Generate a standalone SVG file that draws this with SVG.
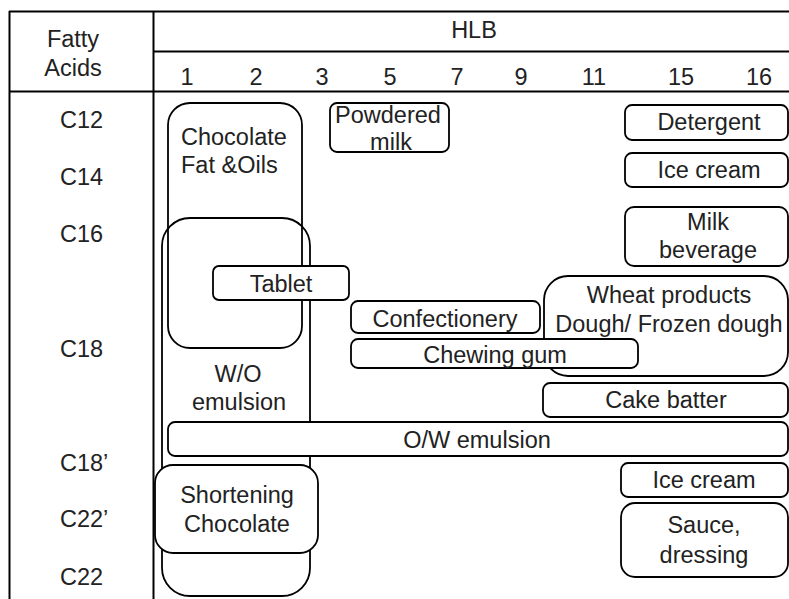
<svg xmlns="http://www.w3.org/2000/svg" width="789" height="599" viewBox="0 0 789 599">
<style>
  text { font-family: "Liberation Sans", Arial, sans-serif; font-size: 23.5px; fill: #222; }
  .c { text-anchor: middle; }
  .grid { stroke: #000; stroke-width: 2; fill: none; }
  .box { stroke: #000; stroke-width: 1.8; fill: none; }
  .boxw { stroke: #000; stroke-width: 1.8; fill: #fff; }
</style>
<rect x="0" y="0" width="789" height="599" fill="#fff"/>
<g id="table">
  <line class="grid" x1="9" y1="11.5" x2="789" y2="11.5"/>
  <line class="grid" x1="9.5" y1="11" x2="9.5" y2="599"/>
  <line class="grid" x1="153.5" y1="11" x2="153.5" y2="599"/>
  <line class="grid" x1="153" y1="51.5" x2="789" y2="51.5"/>
  <line class="grid" x1="9" y1="91.5" x2="789" y2="91.5"/>
  <text class="c" x="73" y="47">Fatty</text>
  <text class="c" x="73" y="76">Acids</text>
  <text class="c" x="474" y="38">HLB</text>
  <g class="hlb">
    <text class="c" x="187" y="85">1</text>
    <text class="c" x="256" y="85">2</text>
    <text class="c" x="322" y="85">3</text>
    <text class="c" x="390" y="85">5</text>
    <text class="c" x="457" y="85">7</text>
    <text class="c" x="521" y="85">9</text>
    <text class="c" x="594" y="85">11</text>
    <text class="c" x="681" y="85">15</text>
    <text class="c" x="759" y="85">16</text>
  </g>
  <g class="rows">
    <text x="60" y="128">C12</text>
    <text x="60" y="185">C14</text>
    <text x="60" y="242">C16</text>
    <text x="60" y="357">C18</text>
    <text x="60" y="471">C18’</text>
    <text x="60" y="527">C22’</text>
    <text x="60" y="585">C22</text>
  </g>
</g>
<g id="wo-emulsion">
  <rect class="box" x="162" y="218" width="148" height="378" rx="28"/>
  <text class="c" x="238" y="382">W/O</text>
  <text class="c" x="239" y="410">emulsion</text>
</g>
<g id="chocolate-fat-oils">
  <rect class="box" x="168" y="103" width="134" height="245" rx="22"/>
  <text x="181" y="145">Chocolate</text>
  <text x="181" y="173">Fat &amp;Oils</text>
</g>
<g id="tablet">
  <rect class="boxw" x="213" y="266" width="136" height="34" rx="6"/>
  <text class="c" x="281" y="292">Tablet</text>
</g>
<g id="powdered-milk">
  <rect class="boxw" x="330" y="103" width="119" height="49" rx="7"/>
  <text class="c" x="388" y="123">Powdered</text>
  <text class="c" x="391" y="150">milk</text>
</g>
<g id="detergent">
  <rect class="boxw" x="625" y="105" width="163" height="35" rx="7"/>
  <text class="c" x="709" y="130">Detergent</text>
</g>
<g id="ice-cream-1">
  <rect class="boxw" x="625" y="153" width="163" height="34" rx="7"/>
  <text class="c" x="709" y="178">Ice cream</text>
</g>
<g id="milk-beverage">
  <rect class="boxw" x="625" y="207" width="163" height="59" rx="9"/>
  <text class="c" x="708" y="230">Milk</text>
  <text class="c" x="708" y="258">beverage</text>
</g>
<g id="wheat-products">
  <rect class="boxw" x="544" y="276" width="244" height="100" rx="24"/>
  <text class="c" x="669" y="303">Wheat products</text>
  <text class="c" x="669" y="332">Dough/ Frozen dough</text>
</g>
<g id="confectionery">
  <rect class="boxw" x="351" y="301" width="189" height="32" rx="7"/>
  <text class="c" x="445" y="327">Confectionery</text>
</g>
<g id="chewing-gum">
  <rect class="boxw" x="351" y="339" width="287" height="29" rx="7"/>
  <text class="c" x="495" y="363">Chewing gum</text>
</g>
<g id="cake-batter">
  <rect class="boxw" x="543" y="383" width="245" height="34" rx="7"/>
  <text class="c" x="666" y="408">Cake batter</text>
</g>
<g id="ow-emulsion">
  <rect class="boxw" x="168" y="422" width="620" height="34" rx="7"/>
  <text class="c" x="477" y="448">O/W emulsion</text>
</g>
<g id="shortening-chocolate">
  <rect class="boxw" x="155" y="465" width="163" height="88" rx="18"/>
  <text class="c" x="237" y="503">Shortening</text>
  <text class="c" x="237" y="532">Chocolate</text>
</g>
<g id="ice-cream-2">
  <rect class="boxw" x="621" y="463" width="167" height="34" rx="7"/>
  <text class="c" x="704" y="488">Ice cream</text>
</g>
<g id="sauce-dressing">
  <rect class="boxw" x="621" y="503" width="167" height="74" rx="14"/>
  <text class="c" x="704" y="533">Sauce,</text>
  <text class="c" x="704" y="563">dressing</text>
</g>
<g id="connectors"></g>
</svg>
